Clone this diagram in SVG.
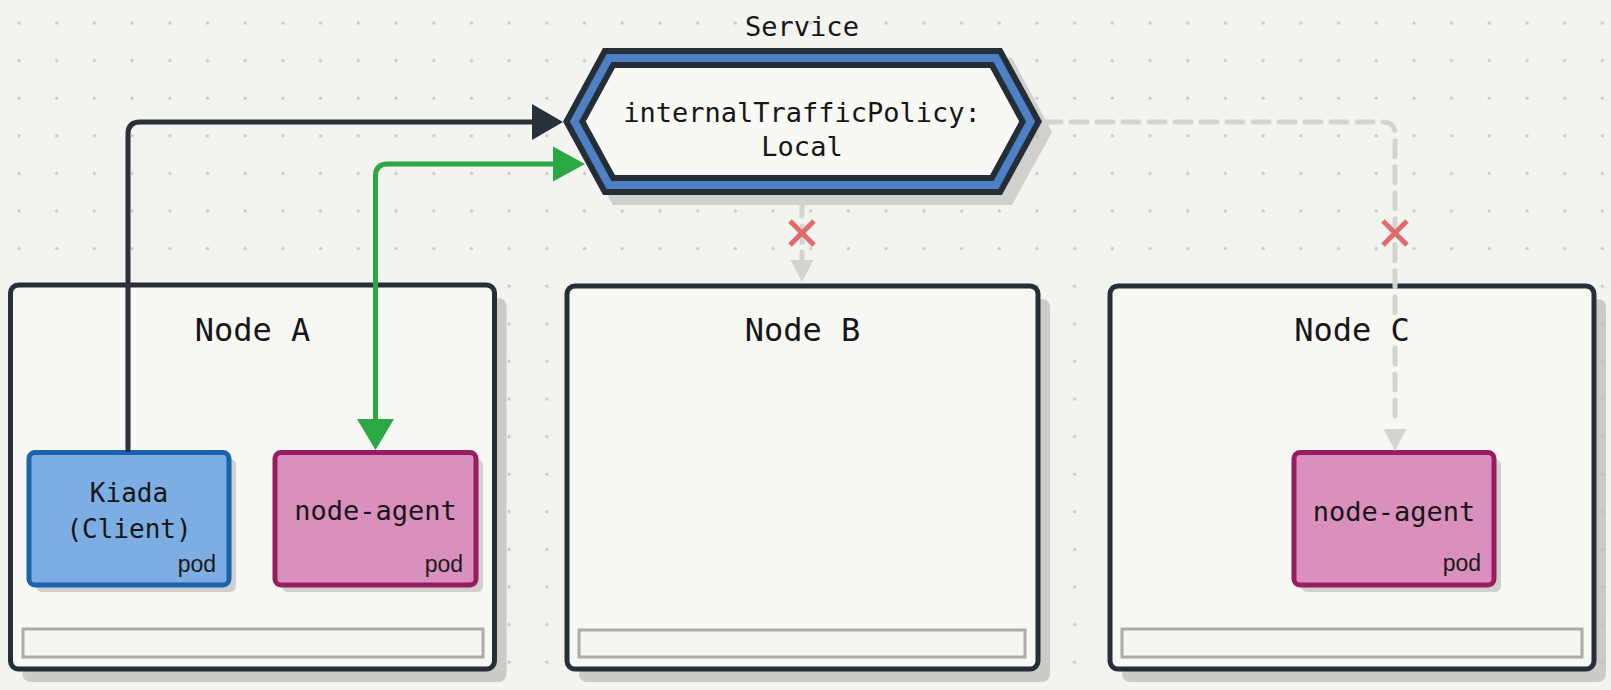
<svg xmlns="http://www.w3.org/2000/svg" width="1611" height="690" viewBox="0 0 1611 690">
  <defs>
    <pattern id="dots" patternUnits="userSpaceOnUse" x="0" y="4" width="37.7" height="37.6">
      <circle cx="19" cy="19" r="1.6" fill="#c6c6c3"/>
    </pattern>
    <style>
      .mono { font-family: "DejaVu Sans Mono", "Liberation Mono", monospace; fill: #161616; }
      .sans { font-family: "Liberation Sans", "DejaVu Sans", sans-serif; fill: #1a1a1a; }
      .nodebox { fill: #f7f7f4; stroke: #262e37; stroke-width: 5; }
      .nodeshadow { fill: #bdbdbb; opacity: 0.75; }
      .bar { fill: #f5f5f2; stroke: #ababab; stroke-width: 3; }
      .podshadow { fill: #c4c4c2; opacity: 0.8; }
      .pod-blue { fill: #7daee3; stroke: #1d62ad; stroke-width: 5; }
      .pod-pink { fill: #da90bd; stroke: #981c62; stroke-width: 5; }
      .dash { fill: none; stroke: #d3d3d1; stroke-width: 5; stroke-dasharray: 16 10; stroke-linecap: round; }
      .xmark { stroke: #e16b6b; stroke-width: 5; }
    </style>
  </defs>

  <rect width="1611" height="690" fill="#f3f3ef"/>
  <rect width="1611" height="690" fill="url(#dots)"/>

  <!-- Service hexagon -->
  <g id="service">
    <text class="mono" x="802" y="36" font-size="27" text-anchor="middle">Service</text>
    <polygon points="613,58 1012,58 1052,132 1012,205 613,205 573,132" fill="#c4c4c2" opacity="0.75"/>
    <polygon points="609,58 996,58 1030.6,121.5 996,185 609,185 574.4,121.5" fill="#f8f8f5" stroke="#252d36" stroke-width="20" stroke-linejoin="miter"/>
    <polygon points="609,58 996,58 1030.6,121.5 996,185 609,185 574.4,121.5" fill="none" stroke="#4d80c4" stroke-width="8" stroke-linejoin="miter"/>
    <text class="mono" x="802" y="122" font-size="27" text-anchor="middle">internalTrafficPolicy:</text>
    <text class="mono" x="802" y="156" font-size="27" text-anchor="middle">Local</text>
  </g>

  <!-- Node A -->
  <g id="node-a">
    <rect class="nodeshadow" x="22.5" y="298" width="484" height="384" rx="8"/>
    <rect class="nodebox" x="10.5" y="285" width="484" height="384" rx="8"/>
    <text class="mono" x="252.5" y="341" font-size="32" text-anchor="middle">Node A</text>
    <rect class="bar" x="23" y="629" width="460" height="28"/>
  </g>

  <g id="kiada-pod">
    <rect class="podshadow" x="36" y="459" width="200" height="133" rx="6"/>
    <rect class="pod-blue" x="29" y="452.5" width="200" height="132.5" rx="6"/>
    <text class="mono" x="129" y="502" font-size="26" text-anchor="middle">Kiada</text>
    <text class="mono" x="129" y="538" font-size="26" text-anchor="middle">(Client)</text>
    <text class="sans" x="216" y="572" font-size="23" text-anchor="end">pod</text>
  </g>

  <g id="node-agent-a">
    <rect class="podshadow" x="282" y="459" width="201" height="133" rx="6"/>
    <rect class="pod-pink" x="275" y="452.5" width="201" height="132.5" rx="6"/>
    <text class="mono" x="375.5" y="520" font-size="27" text-anchor="middle">node-agent</text>
    <text class="sans" x="463" y="572" font-size="23" text-anchor="end">pod</text>
  </g>

  <!-- Node B -->
  <g id="node-b">
    <rect class="nodeshadow" x="579" y="299" width="471" height="383" rx="8"/>
    <rect class="nodebox" x="567" y="286" width="471" height="383" rx="8"/>
    <text class="mono" x="802.5" y="341" font-size="32" text-anchor="middle">Node B</text>
    <rect class="bar" x="579" y="630" width="446" height="27"/>
  </g>

  <!-- Node C -->
  <g id="node-c">
    <rect class="nodeshadow" x="1122" y="299" width="484" height="383" rx="8"/>
    <rect class="nodebox" x="1110" y="286" width="484" height="383" rx="8"/>
    <text class="mono" x="1352" y="341" font-size="32" text-anchor="middle">Node C</text>
    <rect class="bar" x="1122" y="629" width="460" height="28"/>
  </g>

  <g id="node-agent-c">
    <rect class="podshadow" x="1301" y="459" width="200" height="133" rx="6"/>
    <rect class="pod-pink" x="1294" y="452.5" width="200" height="132.5" rx="6"/>
    <text class="mono" x="1394" y="521" font-size="27" text-anchor="middle">node-agent</text>
    <text class="sans" x="1481" y="571" font-size="23" text-anchor="end">pod</text>
  </g>

  <!-- Connectors -->
  <g id="connectors">
    <!-- Kiada to Service -->
    <path d="M128,452 V134 Q128,122 140,122 H534" fill="none" stroke="#29313a" stroke-width="5"/>
    <polygon points="563,122 532,104 532,140" fill="#29313a"/>
    <!-- Service to node-agent A (green) -->
    <path d="M375.5,422 V176 Q375.5,164 387.5,164 H556" fill="none" stroke="#2ba843" stroke-width="5"/>
    <polygon points="585,164 553,146.5 553,181.5" fill="#2ba843"/>
    <polygon points="375.5,450 357,419 394,419" fill="#2ba843"/>
    <!-- Service to Node B (blocked) -->
    <path class="dash" d="M802,200 V258"/>
    <polygon points="790.5,260 813.5,260 802,282" fill="#d3d3d1"/>
    <g class="xmark">
      <line x1="790" y1="221" x2="814" y2="245"/>
      <line x1="814" y1="221" x2="790" y2="245"/>
    </g>
    <!-- Service to node-agent C (blocked) -->
    <path class="dash" d="M1045,122 H1383 Q1395,122 1395,134 V314"/>
    <path class="dash" d="M1395,348 V426"/>
    <polygon points="1383.5,429 1406.5,429 1395,451" fill="#d3d3d1"/>
    <g class="xmark">
      <line x1="1383" y1="221" x2="1407" y2="245"/>
      <line x1="1407" y1="221" x2="1383" y2="245"/>
    </g>
  </g>
</svg>
